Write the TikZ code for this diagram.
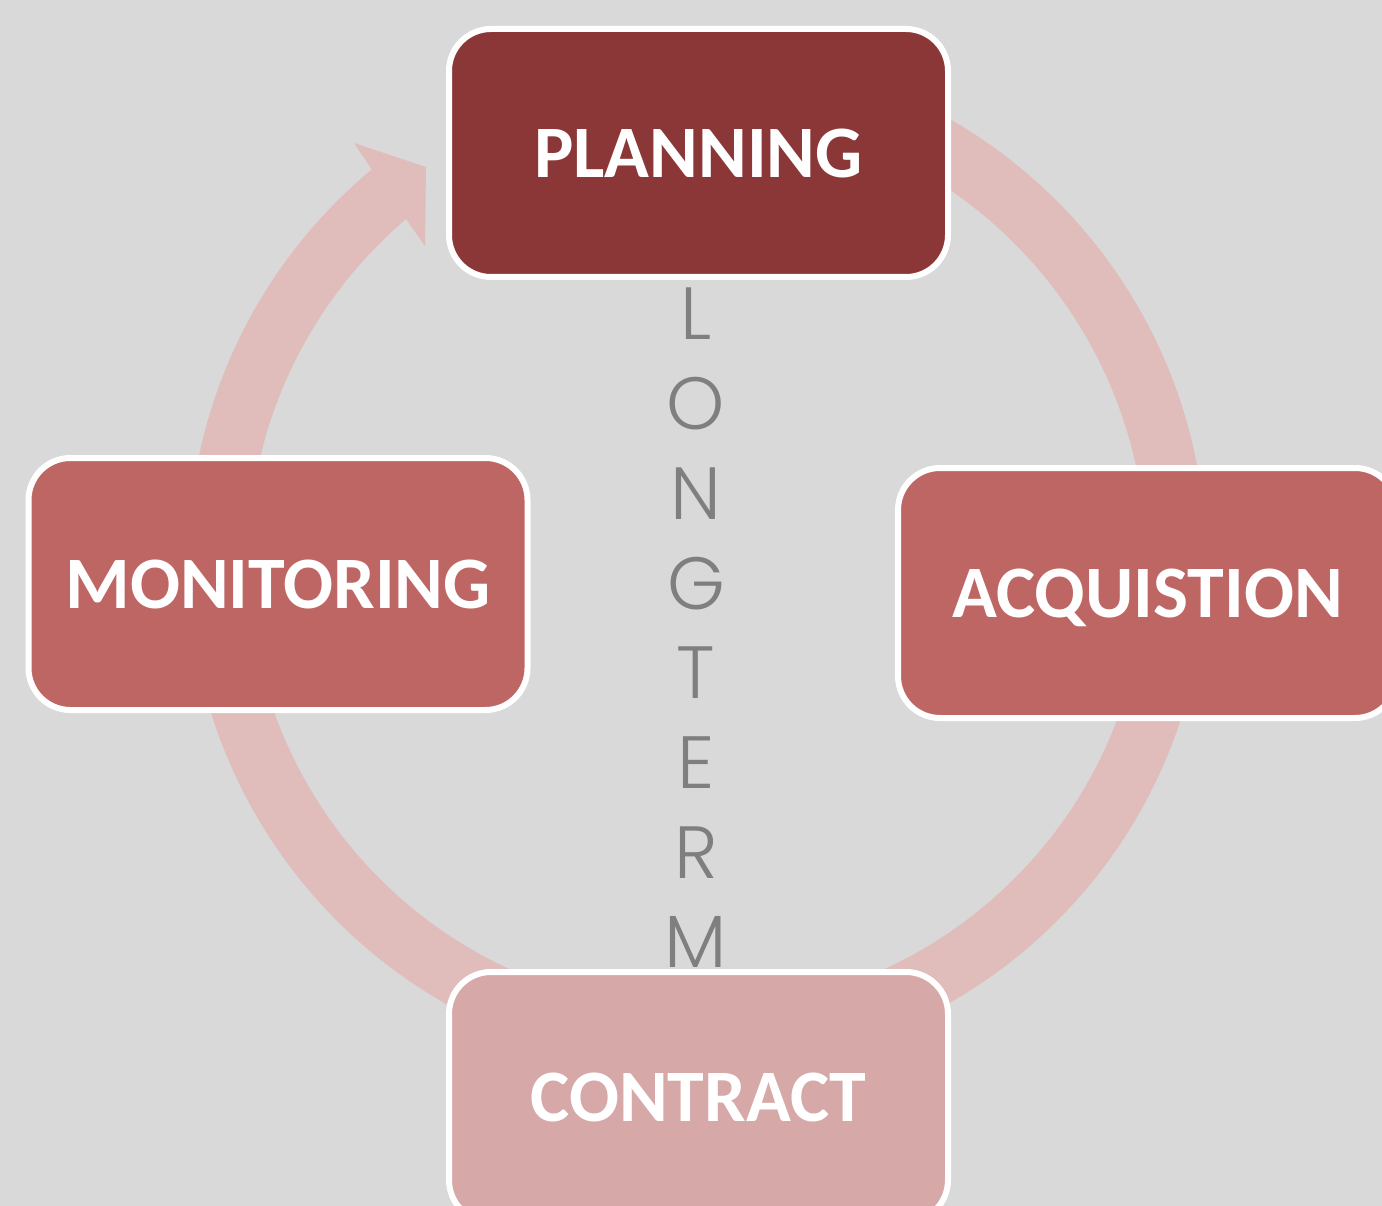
\documentclass[tikz,border=0pt]{standalone}
\usepackage{fontspec}
\newfontfamily\boxfont{Carlito}
\newfontfamily\ltfont{Poppins}[UprightFont=* Light]
\definecolor{bg}{HTML}{D9D9D9}
\definecolor{ringc}{HTML}{E0BCBB}
\definecolor{planc}{HTML}{8B3737}
\definecolor{midc}{HTML}{BE6664}
\definecolor{lightc}{HTML}{D6A8A8}
\definecolor{ltgray}{HTML}{7F7F7F}
\begin{document}
\begin{tikzpicture}[x=1pt,y=-1pt,
  stage/.style={draw=white, line width=6pt, rounded corners=42pt,
    minimum width=499pt, minimum height=250pt, inner sep=0pt,
    text=white, text depth=0pt, font=\boxfont\bfseries\fontsize{74}{90}\selectfont},
  ring/.style={draw=ringc, line width=60pt},
  letter/.style={anchor=base, text=ltgray, inner sep=0pt,
    font=\ltfont\fontsize{74}{80}\selectfont}]
\path[use as bounding box, fill=bg] (0,0) rectangle (1382,1206);
\clip (0,0) rectangle (1382,1206);
% ring
\coordinate (c) at (697,561);
\draw[ring] (c) ++(-85:479) arc[start angle=-85, end angle=230.6, radius=479];
\fill[ringc] (372,170) -- (354,143) -- (426,167) -- (425,246) -- (406,219) -- cycle;
% stages
\node[stage, fill=planc, minimum height=248pt] (planning) at (698.5,153) {PLANNING};
\node[stage, fill=midc, minimum height=252pt] (monitoring) at (278,584) {MONITORING};
\node[stage, fill=midc] (acq) at (1147.5,593) {ACQUISTION};
\node[stage, fill=lightc] (contract) at (698.5,1097) {CONTRACT};
% long term
\foreach \ch [count=\i] in {L,O,N,G,T,E,R,M}
  \node[letter] (lt\i) at (696,{340+(\i-1)*89.7}) {\ch};
\end{tikzpicture}
\end{document}
